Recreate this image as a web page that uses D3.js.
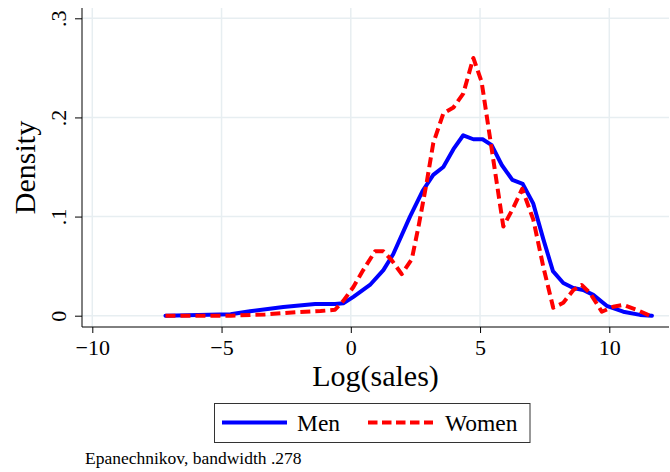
<!DOCTYPE html>
<html>
<head>
<meta charset="utf-8">
<script src="https://cdn.jsdelivr.net/npm/d3@7"></script>
<style>
  body { margin: 0; background: #fff; }
  text { font-family: "Liberation Serif", "Times New Roman", serif; fill: #000; }
</style>
</head>
<body>
<svg id="chart" width="670" height="472"></svg>
<script>
// Kernel density estimates of log(sales), by gender
const menX = [-7.17, -4.65, -3.90, -2.61, -1.38, -0.61, -0.29, 0.10, 0.74, 1.26, 1.64, 2.29, 2.78, 3.19, 3.58, 3.97, 4.35, 4.74, 5.10, 5.45, 5.84, 6.25, 6.65, 7.06, 7.45, 7.82, 8.22, 8.61, 8.99, 9.38, 9.90, 10.54, 11.19, 11.65];
const menY = [0, 0.0015, 0.0045, 0.0088, 0.0118, 0.0118, 0.0125, 0.019, 0.031, 0.046, 0.062, 0.100, 0.126, 0.142, 0.150, 0.168, 0.182, 0.178, 0.178, 0.172, 0.152, 0.137, 0.133, 0.113, 0.077, 0.045, 0.033, 0.028, 0.026, 0.021, 0.010, 0.004, 0.0008, 0];

const womenX = [-7.17, -4.64, -3.32, -1.99, -1.17, -0.61, -0.29, 0.10, 0.48, 0.94, 1.26, 1.58, 1.97, 2.36, 2.62, 2.94, 3.19, 3.58, 3.97, 4.35, 4.74, 5.06, 5.90, 6.29, 6.63, 7.06, 7.45, 7.83, 8.22, 8.61, 8.93, 9.25, 9.71, 10.15, 10.54, 11.06, 11.57];
const womenY = [0, 0, 0.0013, 0.0037, 0.0047, 0.006, 0.015, 0.029, 0.046, 0.065, 0.065, 0.056, 0.042, 0.057, 0.090, 0.135, 0.174, 0.204, 0.210, 0.224, 0.260, 0.236, 0.090, 0.109, 0.128, 0.097, 0.049, 0.008, 0.013, 0.026, 0.031, 0.023, 0.004, 0.009, 0.011, 0.006, 0];

const xTicks = [-10, -5, 0, 5, 10];
const yTicks = [0, 0.1, 0.2, 0.3];
const yTickLabels = ["0", ".1", ".2", ".3"];
const seriesNames = ["Men", "Women"];
const xTitle = "Log(sales)";
const yTitle = "Density";
const noteText = "Epanechnikov, bandwidth .278";

const svg = d3.select("#chart");
const plot = { left: 82, right: 669, top: 8, bottom: 327 };

const x = d3.scaleLinear().domain([-10, 10]).range([92.3, 609.3]);
const y = d3.scaleLinear().domain([0, 0.3]).range([315.7, 18.3]);

// grid
const grid = svg.append("g").attr("stroke", "#e7eef1").attr("stroke-width", 1.5);
grid.selectAll("line.v").data(xTicks).join("line")
  .attr("x1", d => x(d)).attr("x2", d => x(d))
  .attr("y1", plot.top).attr("y2", plot.bottom);
grid.selectAll("line.h").data(yTicks).join("line")
  .attr("x1", plot.left).attr("x2", plot.right)
  .attr("y1", d => y(d)).attr("y2", d => y(d));

// x axis
const xAxis = svg.append("g")
  .attr("transform", `translate(0,${plot.bottom})`)
  .call(d3.axisBottom(x).tickValues(xTicks).tickSize(6).tickPadding(6.5).tickSizeOuter(0));
xAxis.select(".domain").attr("d", `M${plot.left},0H${plot.right}`).attr("stroke", "#000");
xAxis.selectAll(".tick line").attr("stroke", "#000");
xAxis.selectAll(".tick text").attr("font-size", 22);

// y axis with vertical tick labels
const yAxis = svg.append("g")
  .attr("transform", `translate(${plot.left},0)`)
  .call(d3.axisLeft(y).tickValues(yTicks).tickFormat((d, i) => yTickLabels[i]).tickSize(7).tickSizeOuter(0));
yAxis.select(".domain").attr("d", `M0,${plot.top}V${plot.bottom}`).attr("stroke", "#000");
yAxis.selectAll(".tick line").attr("stroke", "#000");
yAxis.selectAll(".tick text")
  .attr("font-size", 22)
  .attr("x", 0).attr("y", -16).attr("dy", 0)
  .attr("transform", "rotate(-90)")
  .attr("text-anchor", "middle");
svg.selectAll(".domain, .tick line").attr("stroke-width", 1);

// density curves
const line = d3.line().x(d => x(d[0])).y(d => y(d[1]));
const menPts = menX.map((v, i) => [v, menY[i]]);
const womenPts = womenX.map((v, i) => [v, womenY[i]]);

svg.append("path").datum(menPts)
  .attr("d", line).attr("fill", "none")
  .attr("stroke", "#0000ff").attr("stroke-width", 4)
  .attr("stroke-linejoin", "round").attr("stroke-linecap", "round");
svg.append("path").datum(womenPts)
  .attr("d", line).attr("fill", "none")
  .attr("stroke", "#ff0000").attr("stroke-width", 4)
  .attr("stroke-dasharray", "10,5")
  .attr("stroke-linejoin", "round");

// titles
svg.append("text").attr("x", (plot.left + plot.right) / 2).attr("y", 386)
  .attr("text-anchor", "middle").attr("font-size", 30).text(xTitle);
svg.append("text").attr("transform", `translate(35,${(plot.top + plot.bottom) / 2}) rotate(-90)`)
  .attr("text-anchor", "middle").attr("font-size", 30).text(yTitle);

// legend
const lg = svg.append("g");
lg.append("rect").attr("x", 214.5).attr("y", 403.5).attr("width", 315.5).attr("height", 39)
  .attr("fill", "#fff").attr("stroke", "#333").attr("stroke-width", 1);
const legendItems = [
  { name: seriesNames[0], x0: 222, tx: 297, color: "#0000ff", dash: null },
  { name: seriesNames[1], x0: 368, tx: 445, color: "#ff0000", dash: "9.5,4.5" }
];
legendItems.forEach(it => {
  lg.append("line").attr("x1", it.x0).attr("x2", it.x0 + 65).attr("y1", 422.5).attr("y2", 422.5)
    .attr("stroke", it.color).attr("stroke-width", 4).attr("stroke-dasharray", it.dash);
  lg.append("text").attr("x", it.tx).attr("y", 431).attr("font-size", 23.5).text(it.name);
});

// note
svg.append("text").attr("x", 85).attr("y", 463.5).attr("font-size", 17.5).text(noteText);
</script>
</body>
</html>
